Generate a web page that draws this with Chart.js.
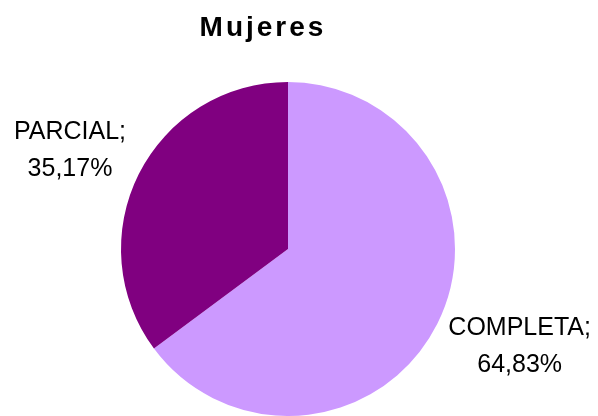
<!DOCTYPE html>
<html>
<head>
<meta charset="utf-8">
<script src="https://cdn.jsdelivr.net/npm/chart.js@4/dist/chart.umd.min.js"></script>
<style>
  html, body { margin: 0; padding: 0; background: #ffffff; }
  #wrap { width: 598px; height: 416px; position: relative; }
</style>
</head>
<body>
<div id="wrap"><canvas id="pieChart"></canvas></div>
<script>
const chartTitle = 'Mujeres';
const categories = ['COMPLETA', 'PARCIAL'];
const percentages = [64.83, 35.17];
const sliceColors = ['#CC99FF', '#800080'];

const labelFont = '25px Arial, "Liberation Sans", sans-serif';

// titulo con espaciado entre letras
const titlePlugin = {
    id: 'mujeresTitle',
    afterDraw(chart) {
        const ctx = chart.ctx;
        ctx.save();
        ctx.font = 'bold 28px Arial, "Liberation Sans", sans-serif';
        ctx.letterSpacing = '3px';
        ctx.fillStyle = '#000000';
        ctx.textAlign = 'center';
        ctx.textBaseline = 'alphabetic';
        ctx.fillText(chartTitle, 263, 36);
        ctx.restore();
    }
};

// etiquetas "CATEGORIA;" / "xx,xx%" fuera del pastel
const outsideLabels = {
    id: 'outsideLabels',
    afterDatasetsDraw(chart) {
        const ctx = chart.ctx;
        const meta = chart.getDatasetMeta(0);
        ctx.save();
        ctx.font = labelFont;
        ctx.fillStyle = '#000000';
        ctx.textAlign = 'center';
        ctx.textBaseline = 'middle';
        meta.data.forEach((arc, i) => {
            const p = arc.getProps(['x', 'y', 'startAngle', 'endAngle', 'outerRadius'], true);
            const mid = (p.startAngle + p.endAngle) / 2;
            const line1 = categories[i] + ';';
            const line2 = percentages[i].toFixed(2).replace('.', ',') + '%';
            const w = Math.max(ctx.measureText(line1).width, ctx.measureText(line2).width);
            const h = 60;
            const r = p.outerRadius + 21;
            const cx = p.x + Math.cos(mid) * r + Math.cos(mid) * w / 2;
            const cy = p.y + Math.sin(mid) * r + Math.sin(mid) * h / 2;
            ctx.fillText(line1, cx, cy - 18.5);
            ctx.fillText(line2, cx, cy + 18.5);
        });
        ctx.restore();
    }
};

const ctx = document.getElementById('pieChart').getContext('2d');
const myPieChart = new Chart(ctx, {
    type: 'pie',
    data: {
        labels: categories,
        datasets: [{
            data: percentages,
            backgroundColor: sliceColors,
            borderWidth: 0
        }]
    },
    options: {
        responsive: true,
        maintainAspectRatio: false,
        animation: false,
        layout: {
            padding: { top: 82, bottom: -2, left: 120, right: 142 }
        },
        plugins: {
            legend: { display: false },
            title: { display: false },
            tooltip: { enabled: false }
        }
    },
    plugins: [titlePlugin, outsideLabels]
});
</script>
</body>
</html>
